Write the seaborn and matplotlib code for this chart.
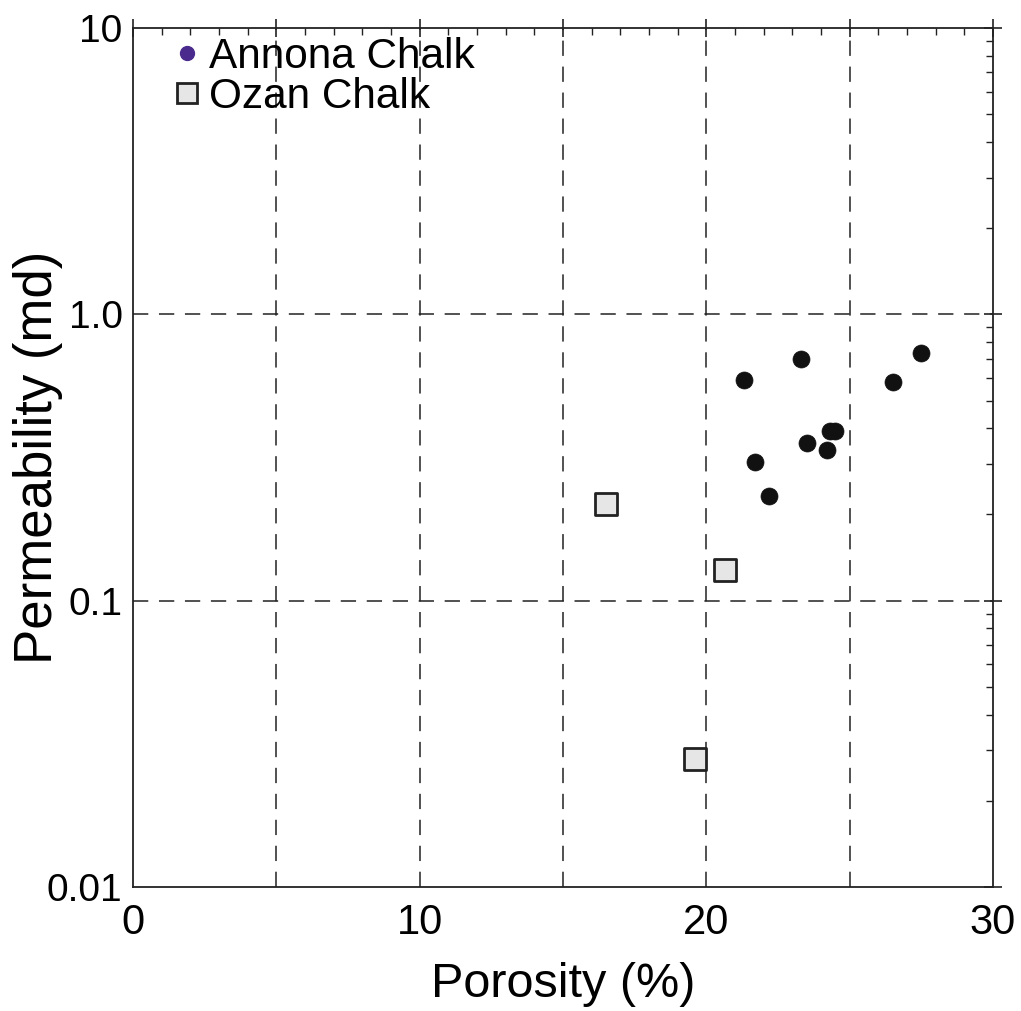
import numpy as np
import pandas as pd
import matplotlib
matplotlib.use("Agg")
import matplotlib.pyplot as plt
import seaborn as sns
from matplotlib.lines import Line2D
from matplotlib.ticker import MultipleLocator, LogLocator, NullFormatter, FixedLocator, FixedFormatter

# Annona Chalk samples
annona_porosity = [21.3, 23.3, 27.5, 26.5, 24.3, 24.5, 23.5, 24.2, 21.7, 22.2]
annona_perm = [0.59, 0.70, 0.73, 0.58, 0.39, 0.39, 0.355, 0.335, 0.305, 0.232]

# Ozan Chalk samples
ozan_porosity = [16.5, 20.65, 19.6]
ozan_perm = [0.218, 0.128, 0.028]

y_ticks = [0.01, 0.1, 1.0, 10]
y_tick_labels = ["0.01", "0.1", "1.0", "10"]
x_ticks = [0, 5, 10, 15, 20, 25, 30]
x_tick_labels = ["0", "", "10", "", "20", "", "30"]

annona = pd.DataFrame({"Porosity": annona_porosity, "Permeability": annona_perm})
ozan = pd.DataFrame({"Porosity": ozan_porosity, "Permeability": ozan_perm})

sns.set_style("white")
plt.rcParams["font.family"] = ["Liberation Sans", "DejaVu Sans"]
plt.rcParams["text.color"] = "black"
plt.rcParams["axes.labelcolor"] = "black"
plt.rcParams["xtick.color"] = "black"
plt.rcParams["ytick.color"] = "black"

fig = plt.figure(figsize=(10.21, 10.11), dpi=100)
ax = fig.add_axes([0.1303, 0.1227, 0.8423, 0.8496])

sns.scatterplot(data=annona, x="Porosity", y="Permeability", ax=ax, marker="o",
                s=150, color="#111111", edgecolor="#111111", linewidth=0.5, zorder=3, legend=False)
sns.scatterplot(data=ozan, x="Porosity", y="Permeability", ax=ax, marker="s",
                s=260, color="#e6e6e6", edgecolor="#222222", linewidth=2.0, zorder=3, legend=False)

ax.set_yscale("log")
ax.set_xlim(0, 30)
ax.set_ylim(0.01, 10)

for xv in [5, 10, 15, 20, 25]:
    ax.axvline(xv, color="#222222", lw=1.1, ls=(0, (10, 7)), zorder=1)
for yv in [0.1, 1.0]:
    ax.axhline(yv, color="#222222", lw=1.1, ls=(0, (10, 7)), zorder=1)

ax.xaxis.set_major_locator(FixedLocator(x_ticks))
ax.xaxis.set_major_formatter(FixedFormatter(x_tick_labels))
ax.xaxis.set_minor_locator(MultipleLocator(1))
ax.yaxis.set_major_locator(FixedLocator(y_ticks))
ax.yaxis.set_major_formatter(FixedFormatter(y_tick_labels))
ax.yaxis.set_minor_locator(LogLocator(base=10, subs=np.arange(2, 10)))
ax.yaxis.set_minor_formatter(NullFormatter())

ax.tick_params(axis="both", which="major", direction="inout", length=13, width=1.2,
               top=True, right=True, color="#222222")
ax.tick_params(axis="both", which="minor", direction="in", length=5, width=1.0,
               top=True, right=True, color="#222222")
ax.tick_params(axis="x", which="major", labelsize=30, pad=5)
ax.tick_params(axis="y", which="major", labelsize=28, pad=1)

for sp in ax.spines.values():
    sp.set_color("#222222")
    sp.set_linewidth(1.3)

ax.set_xlabel("Porosity (%)", fontsize=35, va="center")
ax.xaxis.set_label_coords(0.5, -0.113)
ax.set_ylabel("Permeability (md)", fontsize=38, va="center")
ax.yaxis.set_label_coords(-0.110, 0.5)

handles = [
    Line2D([], [], marker="o", ls="", markersize=10, markerfacecolor="#4a2a8c",
           markeredgecolor="#4a2a8c", label="Annona Chalk"),
    Line2D([], [], marker="s", ls="", markersize=14, markerfacecolor="#e6e6e6",
           markeredgecolor="#222222", markeredgewidth=2, label="Ozan Chalk"),
]
ax.legend(handles=handles, loc="upper left", frameon=False, fontsize=30.5,
          handletextpad=0.05, borderaxespad=0.0, labelspacing=0.0,
          borderpad=0.0, handlelength=0.9, bbox_to_anchor=(0.041, 0.99))

fig.savefig("out.png", dpi=100)
